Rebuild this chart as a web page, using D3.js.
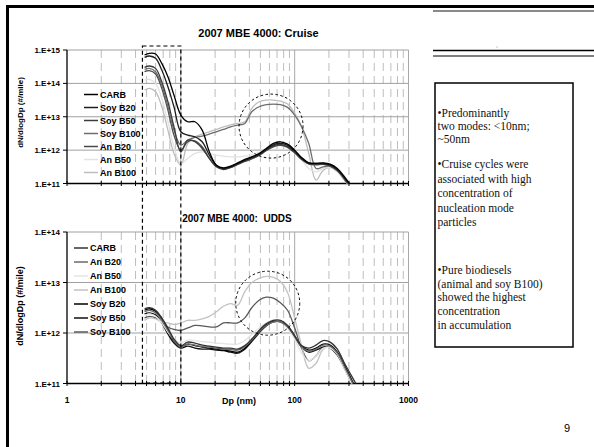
<!DOCTYPE html>
<html>
<head>
<meta charset="utf-8">
<script src="https://cdn.jsdelivr.net/npm/d3@7"></script>
<style>
body { margin: 0; background: #fff; }
svg { display: block; font-family: Arial, "Liberation Sans", sans-serif; }
</style>
</head>
<body>
<svg id="slide" width="594" height="447"></svg>
<script>
// particle diameter grid (nm), shared by every series
var dpGrid = [4.8, 5.3, 6, 6.8, 7.7, 8.7, 10, 11.5, 13.3, 15.4, 17.8, 20.5, 23.7, 27.4, 31.6, 36.5,
    42, 48.7, 56.2, 65, 75, 86.6, 100, 115, 133, 154, 178, 205, 237, 274, 316, 365];

// values, stored as log10(dN/dlogDp)
// --- Cruise
var cruiseCARB    = [14.85, 14.9, 14.88, 14.6, 14.2, 13.65, 13.05, 12.85, 12.85, 12.6, 11.95, 11.55, 11.47, 11.52, 11.62, 11.72, 11.8, 11.9, 12.05, 12.2, 12.25, 12.18, 12.0, 11.78, 11.62, 11.6, 11.62, 11.58, 11.45, 11.2, 10.9, 10.5];
var cruiseSoyB20  = [14.78, 14.82, 14.75, 14.4, 13.9, 13.3, 12.55, 12.45, 12.4, 12.25, 11.85, 11.55, 11.45, 11.5, 11.6, 11.7, 11.78, 11.88, 12.02, 12.16, 12.2, 12.14, 11.97, 11.76, 11.62, 11.6, 11.6, 11.56, 11.42, 11.18, 10.88, 10.5];
var cruiseSoyB50  = [14.48, 14.52, 14.45, 14.05, 13.45, 12.7, 11.95, 12.3, 12.25, 12.05, 11.75, 11.5, 11.42, 11.48, 11.58, 11.68, 11.76, 11.86, 12.0, 12.13, 12.17, 12.1, 11.94, 11.74, 11.6, 11.58, 11.58, 11.53, 11.4, 11.15, 10.85, 10.5];
var cruiseSoyB100 = [14.42, 14.45, 14.35, 13.95, 13.3, 12.6, 12.15, 12.3, 12.38, 12.42, 12.48, 12.55, 12.62, 12.7, 12.75, 12.8, 13.15, 13.3, 13.36, 13.38, 13.36, 13.28, 13.05, 12.7, 12.2, 11.45, 11.5, 11.52, 11.4, 11.15, 10.85, 10.5];
var cruiseAnB20   = [14.35, 14.38, 14.28, 13.85, 13.2, 12.45, 12.0, 12.25, 12.28, 12.1, 11.75, 11.52, 11.44, 11.48, 11.57, 11.66, 11.74, 11.84, 11.98, 12.1, 12.14, 12.08, 11.92, 11.72, 11.58, 11.56, 11.57, 11.52, 11.38, 11.12, 10.82, 10.5];
var cruiseAnB50   = [14.1, 14.12, 14.0, 13.55, 12.85, 12.1, 11.6, 11.75, 11.9, 11.95, 11.9, 11.85, 11.82, 11.8, 11.8, 11.82, 11.86, 11.93, 12.05, 12.15, 12.18, 12.12, 11.95, 11.72, 11.45, 11.35, 11.45, 11.47, 11.36, 11.1, 10.8, 10.5];
var cruiseAnB100  = [13.8, 13.85, 13.75, 13.3, 12.6, 11.9, 11.55, 12.2, 12.4, 12.48, 12.55, 12.62, 12.7, 12.76, 12.8, 12.85, 13.25, 13.45, 13.5, 13.5, 13.47, 13.38, 13.1, 12.7, 11.9, 11.1, 11.4, 11.48, 11.35, 11.1, 10.8, 10.5];

// --- UDDS
var uddsCARB    = [12.48, 12.5, 12.45, 12.3, 12.1, 11.88, 11.75, 11.82, 11.8, 11.76, 11.74, 11.72, 11.7, 11.7, 11.68, 11.75, 11.88, 12.05, 12.18, 12.25, 12.25, 12.15, 11.95, 11.75, 11.7, 11.76, 11.85, 11.82, 11.68, 11.4, 11.15, 10.9];
var uddsAnB20   = [12.42, 12.45, 12.4, 12.25, 12.05, 11.85, 11.72, 11.78, 11.76, 11.73, 11.72, 11.7, 11.68, 11.67, 11.66, 11.73, 11.86, 12.02, 12.15, 12.22, 12.22, 12.12, 11.93, 11.72, 11.64, 11.68, 11.76, 11.74, 11.6, 11.33, 11.05, 10.75];
var uddsAnB50   = [12.35, 12.38, 12.33, 12.2, 12.02, 11.88, 11.8, 11.86, 11.85, 11.83, 11.82, 11.8, 11.79, 11.78, 11.78, 11.85, 11.97, 12.1, 12.2, 12.26, 12.24, 12.1, 11.88, 11.6, 11.45, 11.55, 11.7, 11.7, 11.58, 11.3, 11.0, 10.7];
var uddsAnB100  = [12.25, 12.3, 12.28, 12.22, 12.2, 12.17, 12.2, 12.25, 12.25, 12.28, 12.33, 12.42, 12.53, 12.58, 12.55, 12.82, 13.0, 13.08, 13.12, 13.1, 13.02, 12.8, 12.3, 11.75, 11.3, 11.4, 11.68, 11.72, 11.58, 11.3, 11.0, 10.7];
var uddsSoyB20  = [12.45, 12.48, 12.43, 12.28, 12.06, 11.84, 11.72, 11.78, 11.75, 11.72, 11.7, 11.68, 11.66, 11.64, 11.62, 11.7, 11.85, 12.02, 12.16, 12.24, 12.24, 12.14, 11.94, 11.74, 11.66, 11.7, 11.78, 11.76, 11.62, 11.36, 11.08, 10.78];
var uddsSoyB50  = [12.38, 12.4, 12.36, 12.2, 11.98, 11.8, 11.7, 11.74, 11.7, 11.68, 11.68, 11.66, 11.65, 11.62, 11.6, 11.68, 11.83, 12.0, 12.14, 12.22, 12.22, 12.12, 11.92, 11.72, 11.62, 11.66, 11.72, 11.7, 11.56, 11.3, 11.02, 10.72];
var uddsSoyB100 = [12.3, 12.33, 12.3, 12.22, 12.12, 12.07, 12.05, 12.1, 12.15, 12.14, 12.12, 12.12, 12.2, 12.2, 12.2, 12.3, 12.5, 12.65, 12.71, 12.69, 12.6, 12.45, 12.1, 11.7, 11.45, 11.55, 11.72, 11.72, 11.6, 11.32, 11.02, 10.72];

var cruiseNames  = ["CARB", "Soy B20", "Soy B50", "Soy B100", "An B20", "An B50", "An B100"];
var cruiseValues = [cruiseCARB, cruiseSoyB20, cruiseSoyB50, cruiseSoyB100, cruiseAnB20, cruiseAnB50, cruiseAnB100];
var cruiseColors = ["#000", "#1e1e1e", "#3c3c3c", "#6e6e6e", "#4a4a4a", "#e2e2e2", "#bdbdbd"];

var uddsNames  = ["CARB", "An B20", "An B50", "An B100", "Soy B20", "Soy B50", "Soy B100"];
var uddsValues = [uddsCARB, uddsAnB20, uddsAnB50, uddsAnB100, uddsSoyB20, uddsSoyB50, uddsSoyB100];
var uddsColors = ["#333", "#6a6a6a", "#e4e4e4", "#c2c2c2", "#000", "#111", "#5a5a5a"];

var xTickLabels = ["1", "10", "100", "1000"];
var notes = [
    ["\u2022Predominantly", "two modes: <10nm;", "~50nm"],
    ["\u2022Cruise cycles were", "associated with high", "concentration of", "nucleation mode", "particles"],
    ["\u2022Pure biodiesels", "(animal and soy B100)", "showed the highest", "concentration", "in accumulation"]
];

var svg = d3.select("#slide");

// slide frame
svg.append("line").attr("x1", 6).attr("x2", 594).attr("y1", 6.5).attr("y2", 6.5)
    .attr("stroke", "#000").attr("stroke-width", 3);
svg.append("line").attr("x1", 7.5).attr("x2", 7.5).attr("y1", 5).attr("y2", 447)
    .attr("stroke", "#000").attr("stroke-width", 3);
svg.append("line").attr("x1", 433).attr("x2", 594).attr("y1", 11).attr("y2", 11)
    .attr("stroke", "#8a8a8a").attr("stroke-width", 2);
svg.append("line").attr("x1", 433).attr("x2", 594).attr("y1", 50.5).attr("y2", 50.5)
    .attr("stroke", "#000").attr("stroke-width", 1.5);
svg.append("line").attr("x1", 433).attr("x2", 594).attr("y1", 56).attr("y2", 56)
    .attr("stroke", "#000").attr("stroke-width", 1);
svg.append("circle").attr("cx", 497).attr("cy", 47).attr("r", 0.6).attr("fill", "#888");

// scales
var x = d3.scaleLog().domain([1, 1000]).range([67, 408.5]);
var yTop = d3.scaleLog().domain([1e11, 1e15]).range([183.5, 50]);
var yBot = d3.scaleLog().domain([1e11, 1e14]).range([383.5, 232]);

var minorX = [];
[1, 10, 100].forEach(function(dec) {
    for (var k = 2; k <= 9; k++) minorX.push(k * dec);
});

function drawPanel(id, y, names, values, colors, opts) {
    var g = svg.append("g");
    var y0 = y.range()[0], y1 = y.range()[1];
    var decades = y.ticks().filter(function(v) { return Math.abs(Math.log10(v) % 1) < 1e-9; });

    // minor vertical gridlines (dashed)
    g.selectAll(".minor").data(minorX).enter().append("line")
        .attr("x1", function(d) { return x(d); }).attr("x2", function(d) { return x(d); })
        .attr("y1", y1).attr("y2", y0)
        .attr("stroke", "#bdbdbd").attr("stroke-width", 1).attr("stroke-dasharray", "8,5");
    // major vertical gridlines
    g.selectAll(".majorx").data([10, 100, 1000]).enter().append("line")
        .attr("x1", function(d) { return x(d); }).attr("x2", function(d) { return x(d); })
        .attr("y1", y1).attr("y2", y0)
        .attr("stroke", "#a8a8a8").attr("stroke-width", 1);
    // horizontal gridlines
    g.selectAll(".majory").data(decades).enter().append("line")
        .attr("x1", x(1)).attr("x2", x(1000))
        .attr("y1", function(d) { return y(d); }).attr("y2", function(d) { return y(d); })
        .attr("stroke", "#a0a0a0").attr("stroke-width", 1);

    // axes lines + ticks
    g.append("line").attr("x1", x(1)).attr("x2", x(1)).attr("y1", y1).attr("y2", y0)
        .attr("stroke", "#000").attr("stroke-width", 1.3);
    g.append("line").attr("x1", x(1)).attr("x2", x(1000)).attr("y1", y0).attr("y2", y0)
        .attr("stroke", "#000").attr("stroke-width", 1.3);
    g.selectAll(".ytick").data(decades).enter().append("line")
        .attr("x1", x(1) - 4).attr("x2", x(1))
        .attr("y1", function(d) { return y(d); }).attr("y2", function(d) { return y(d); })
        .attr("stroke", "#000");
    g.selectAll(".xtick").data(minorX.concat([1, 10, 100, 1000])).enter().append("line")
        .attr("x1", function(d) { return x(d); }).attr("x2", function(d) { return x(d); })
        .attr("y1", y0 - 2.5).attr("y2", y0 + 2.5)
        .attr("stroke", "#000");

    g.selectAll(".ylab").data(decades).enter().append("text")
        .attr("x", 60).attr("y", function(d) { return y(d) + 3; })
        .attr("text-anchor", "end").attr("font-size", 8).attr("font-weight", "bold")
        .text(function(d) { return "1.E+" + Math.round(Math.log10(d)); });

    g.append("text")
        .attr("transform", "translate(" + opts.yLabelX + "," + opts.yLabelY + ") rotate(-90)")
        .attr("text-anchor", "middle").attr("font-size", opts.yLabelSize).attr("font-weight", "bold")
        .text("dN/dlogDp (#/mile)");

    g.append("text").attr("x", opts.titleX).attr("y", opts.titleY)
        .attr("text-anchor", "middle").attr("font-size", opts.titleSize).attr("font-weight", "bold")
        .style("white-space", "pre")
        .text(opts.title);

    // series
    svg.append("clipPath").attr("id", id).append("rect")
        .attr("x", x(1)).attr("y", y1).attr("width", x(1000) - x(1)).attr("height", y0 - y1);
    var line = d3.line()
        .x(function(d) { return x(d[0]); })
        .y(function(d) { return y(Math.pow(10, d[1])); })
        .curve(d3.curveCatmullRom.alpha(0.5));
    var series = values.map(function(vals, i) {
        return { name: names[i], color: colors[i], pts: dpGrid.map(function(dp, j) { return [dp, vals[j]]; }) };
    });
    g.append("g").attr("clip-path", "url(#" + id + ")")
        .selectAll("path").data(series.slice().reverse()).enter().append("path")
        .attr("d", function(d) { return line(d.pts); })
        .attr("fill", "none")
        .attr("stroke", function(d) { return d.color; })
        .attr("stroke-width", 1.3);

    // legend
    var leg = g.selectAll(".leg").data(series).enter().append("g")
        .attr("transform", function(d, i) { return "translate(" + opts.legendX + "," + (opts.legendY + i * opts.legendStep) + ")"; });
    leg.append("line").attr("x1", 0).attr("x2", 14).attr("y1", 0).attr("y2", 0)
        .attr("stroke", function(d) { return d.color; }).attr("stroke-width", 1.5);
    leg.append("text").attr("x", 16).attr("y", 3.2)
        .attr("font-size", 9).attr("font-weight", "bold")
        .text(function(d) { return d.name; });
    return g;
}

drawPanel("clipTop", yTop, cruiseNames, cruiseValues, cruiseColors, {
    title: "2007 MBE 4000: Cruise", titleX: 258.5, titleY: 37, titleSize: 11,
    legendX: 84, legendY: 94.5, legendStep: 13,
    yLabelX: 23, yLabelY: 112.5, yLabelSize: 8
});
drawPanel("clipBot", yBot, uddsNames, uddsValues, uddsColors, {
    title: "2007 MBE 4000:  UDDS", titleX: 237, titleY: 221.5, titleSize: 10,
    legendX: 74, legendY: 248, legendStep: 14,
    yLabelX: 23, yLabelY: 306, yLabelSize: 9
});

// x tick labels only on the lower chart
svg.selectAll(".xlab").data([1, 10, 100, 1000]).enter().append("text")
    .attr("x", function(d) { return x(d); }).attr("y", 403)
    .attr("text-anchor", "middle").attr("font-size", 8.5).attr("font-weight", "bold")
    .text(function(d, i) { return xTickLabels[i]; });
svg.append("text").attr("x", 239).attr("y", 404)
    .attr("text-anchor", "middle").attr("font-size", 9).attr("font-weight", "bold")
    .text("Dp (nm)");

// dashed box around the nucleation mode
svg.append("rect")
    .attr("x", x(4.6)).attr("y", 46)
    .attr("width", x(10) - x(4.6)).attr("height", 383 - 46)
    .attr("fill", "none").attr("stroke", "#000").attr("stroke-width", 1.2)
    .attr("stroke-dasharray", "4,3");

// dashed circles around the accumulation mode
svg.append("circle").attr("cx", x(62)).attr("cy", yTop(Math.pow(10, 12.72))).attr("r", 32)
    .attr("fill", "none").attr("stroke", "#000").attr("stroke-dasharray", "2.5,2.5");
svg.append("circle").attr("cx", x(58)).attr("cy", yBot(Math.pow(10, 12.59))).attr("r", 32)
    .attr("fill", "none").attr("stroke", "#000").attr("stroke-dasharray", "2.5,2.5");

// notes box
svg.append("rect").attr("x", 435).attr("y", 83).attr("width", 138).attr("height", 264)
    .attr("fill", "none").attr("stroke", "#000").attr("stroke-width", 1.5);
var noteY = [[116.5, 129.7, 142.9], [168, 182.5, 197, 211.5, 226], [274, 287.5, 301, 314.5, 329]];
var nt = svg.append("text").attr("font-family", "'Liberation Serif', 'Times New Roman', serif")
    .attr("font-size", 11.5).attr("fill", "#111");
notes.forEach(function(block, b) {
    block.forEach(function(s, i) {
        nt.append("tspan").attr("x", 437.5).attr("y", noteY[b][i]).text(s);
    });
});

svg.append("text").attr("x", 567).attr("y", 432).attr("text-anchor", "middle")
    .attr("font-size", 11).text("9");
</script>
</body>
</html>
